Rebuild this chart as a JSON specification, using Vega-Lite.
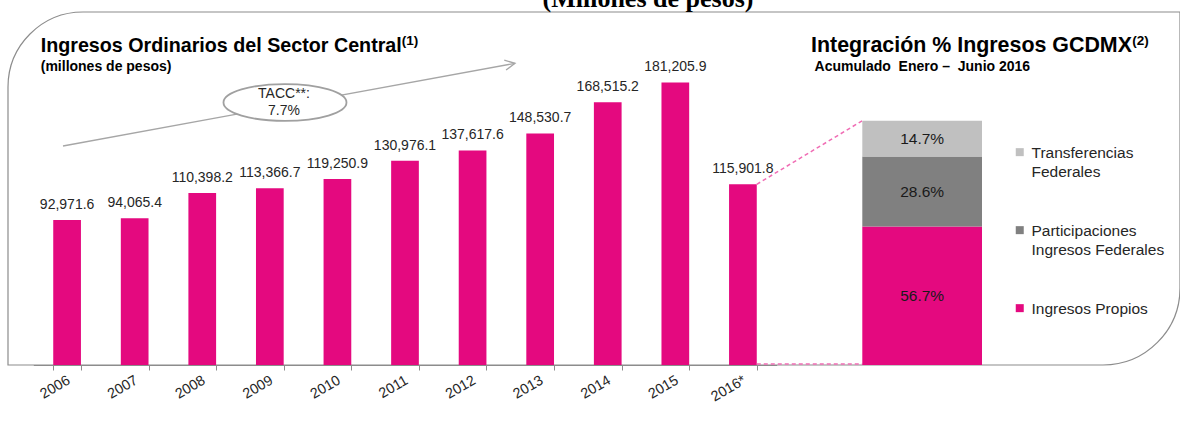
{
  "$schema": "https://vega.github.io/schema/vega-lite/v6.json",
  "width": 1172,
  "height": 353,
  "autosize": {"type": "none"},
  "padding": {"left": 8, "top": 12, "right": 0, "bottom": 59},
  "background": "white",
  "config": {"view": {"stroke": null}, "font": "Liberation Sans", "style": {"guide-label": {"lineHeight": 19}}},
  "layer": [
    {
      "data": {"values": [{}]},
      "mark": {"type": "rect", "fill": "white", "fillOpacity": 0, "stroke": "#8c8c8c", "strokeWidth": 1.2, "cornerRadiusTopLeft": 75, "cornerRadiusBottomRight": 77, "x2Offset": 16, "y2Offset": 62},
      "encoding": {}
    },
    {
      "data": {"values": [
        {"anio": "2006", "monto": 92971.6},
        {"anio": "2007", "monto": 94065.4},
        {"anio": "2008", "monto": 110398.2},
        {"anio": "2009", "monto": 113366.7},
        {"anio": "2010", "monto": 119250.9},
        {"anio": "2011", "monto": 130976.1},
        {"anio": "2012", "monto": 137617.6},
        {"anio": "2013", "monto": 148530.7},
        {"anio": "2014", "monto": 168515.2},
        {"anio": "2015", "monto": 181205.9},
        {"anio": "2016*", "monto": 115901.8}
      ]},
      "layer": [
        {
          "mark": {"type": "bar", "color": "#E4097F"},
          "encoding": {
            "x": {"field": "anio", "type": "nominal", "scale": {"range": [25.3, 768.7], "paddingInner": 0.59, "paddingOuter": 0.295},
              "axis": {"title": null, "labelAngle": -30, "labelFontSize": 14.3, "labelColor": "#262626", "labelAlign": "right", "labelBaseline": "top", "labelPadding": 3, "labelOffset": -2, "tickBand": "extent", "tickSize": 5, "tickColor": "#8c8c8c", "domainColor": "#8c8c8c", "labelFlush": false, "labelOverlap": false, "grid": false}},
            "y": {"field": "monto", "type": "quantitative", "scale": {"domain": [0, 226414], "nice": false}, "axis": null}
          }
        },
        {
          "mark": {"type": "text", "fontSize": 14, "color": "#262626", "baseline": "alphabetic", "dy": -11},
          "encoding": {
            "x": {"field": "anio", "type": "nominal"},
            "y": {"field": "monto", "type": "quantitative"},
            "text": {"field": "monto", "type": "quantitative", "format": ",.1f"}
          }
        },
        {
          "data": {"values": [{}]},
          "mark": {"type": "text", "align": "center", "baseline": "alphabetic", "font": "Liberation Serif", "fontSize": 26, "fontWeight": "bold", "color": "#000000"},
          "encoding": {
            "x": {"datum": "2015", "bandPosition": -0.487},
            "y": {"datum": 229900},
            "text": {"value": "(Millones de pesos)"}
          }
        },
        {
          "data": {"values": [{}]},
          "mark": {"type": "rule", "color": "#a6a6a6", "strokeWidth": 1.3},
          "encoding": {
            "x": {"datum": "2006", "bandPosition": 0.352},
            "x2": {"datum": "2013", "bandPosition": -0.408},
            "y": {"datum": 140467},
            "y2": {"datum": 193510}
          }
        },
        {
          "data": {"values": [{}]},
          "mark": {"type": "point", "shape": "M-1,-0.5L0,0L-1,0.5", "size": 400, "angle": -10.4, "filled": false, "stroke": "#a6a6a6", "strokeWidth": 1.3, "opacity": 1},
          "encoding": {
            "x": {"datum": "2013", "bandPosition": -0.408},
            "y": {"datum": 193510}
          }
        },
        {
          "data": {"values": [{}]},
          "mark": {"type": "point", "shape": "M-1,0A1,0.3,0,1,1,1,0A1,0.3,0,1,1,-1,0Z", "size": 15129, "filled": true, "fill": "white", "stroke": "#a0a0a0", "strokeWidth": 1.8, "opacity": 1, "fillOpacity": 1, "strokeOpacity": 1},
          "encoding": {
            "x": {"datum": "2009", "bandPosition": 1.047},
            "y": {"datum": 168368}
          }
        },
        {
          "data": {"values": [{}]},
          "mark": {"type": "text", "fontSize": 14, "color": "#262626", "baseline": "middle", "align": "center", "lineHeight": 17, "dx": -1, "dy": -8},
          "encoding": {
            "x": {"datum": "2009", "bandPosition": 1.047},
            "y": {"datum": 168368},
            "text": {"value": ["TACC**:", "7.7%"]}
          }
        },
        {
          "data": {"values": [{}]},
          "mark": {"type": "rule", "color": "#F06CB4", "strokeWidth": 1.5, "strokeDash": [4, 3], "x2Offset": 105.6},
          "encoding": {
            "x": {"datum": "2016*", "bandPosition": 1},
            "x2": {"datum": "2016*", "bandPosition": 1},
            "y": {"datum": 115901.8},
            "y2": {"datum": 156694}
          }
        },
        {
          "data": {"values": [{}]},
          "mark": {"type": "rule", "color": "#F06CB4", "strokeWidth": 1.5, "strokeDash": [4, 3], "x2Offset": 105.6},
          "encoding": {
            "x": {"datum": "2016*", "bandPosition": 1},
            "x2": {"datum": "2016*", "bandPosition": 1},
            "y": {"datum": 600},
            "y2": {"datum": 600}
          }
        },
        {
          "data": {"values": [{}]},
          "mark": {"type": "text", "align": "left", "baseline": "alphabetic", "fontSize": 19.7, "fontWeight": "bold", "color": "#000000", "dx": -12.5},
          "encoding": {
            "x": {"datum": "2006", "bandPosition": 0},
            "y": {"datum": 200600},
            "text": {"value": "Ingresos Ordinarios del Sector Central"}
          }
        },
        {
          "data": {"values": [{}]},
          "mark": {"type": "text", "align": "left", "baseline": "alphabetic", "fontSize": 13.5, "fontWeight": "bold", "color": "#000000", "dx": 348.5, "dy": -7},
          "encoding": {
            "x": {"datum": "2006", "bandPosition": 0},
            "y": {"datum": 200600},
            "text": {"value": "(1)"}
          }
        },
        {
          "data": {"values": [{}]},
          "mark": {"type": "text", "align": "left", "baseline": "alphabetic", "fontSize": 14, "fontWeight": "bold", "color": "#000000", "dx": -12.5},
          "encoding": {
            "x": {"datum": "2006", "bandPosition": 0},
            "y": {"datum": 188600},
            "text": {"value": "(millones de pesos)"}
          }
        }
      ]
    },
    {
      "data": {"values": [
        {"periodo": "Ene-Jun 2016", "cat": "Ingresos Propios", "v": 0.567},
        {"periodo": "Ene-Jun 2016", "cat": "Participaciones Ingresos Federales", "v": 0.286},
        {"periodo": "Ene-Jun 2016", "cat": "Transferencias Federales", "v": 0.147}
      ]},
      "layer": [
        {
          "mark": {"type": "bar"},
          "encoding": {
            "x": {"field": "periodo", "type": "nominal", "scale": {"range": [854.3, 974], "paddingInner": 0, "paddingOuter": 0}, "axis": null},
            "y": {"field": "v", "type": "quantitative", "stack": "zero", "scale": {"domain": [0, 1.4449], "nice": false}, "axis": null},
            "color": {"field": "cat", "type": "nominal",
              "scale": {"domain": ["Transferencias Federales", "Participaciones Ingresos Federales", "Ingresos Propios"], "range": ["#C0C0C0", "#808080", "#E4097F"]},
              "legend": {"title": null, "orient": "none", "legendX": 1004, "legendY": 126, "padding": 0, "labelFontSize": 15.5, "labelColor": "#262626", "labelBaseline": "top", "symbolType": "M-1,0.6H1V2.6H-1Z", "symbolSize": 64, "symbolStrokeWidth": 0, "rowPadding": 35, "labelLimit": 200,
                "labelExpr": "datum.label == 'Transferencias Federales' ? ['Transferencias', 'Federales'] : datum.label == 'Participaciones Ingresos Federales' ? ['Participaciones', 'Ingresos Federales'] : datum.label"}},
            "order": {"field": "v", "type": "quantitative", "sort": "descending"}
          }
        },
        {
          "mark": {"type": "text", "fontSize": 15.5, "color": "#1a1a1a", "baseline": "middle", "align": "center"},
          "encoding": {
            "x": {"field": "periodo", "type": "nominal"},
            "y": {"field": "v", "type": "quantitative", "stack": "zero", "bandPosition": 0.5},
            "detail": {"field": "cat"},
            "order": {"field": "v", "type": "quantitative", "sort": "descending"},
            "text": {"field": "v", "type": "quantitative", "format": ".1%"}
          }
        },
        {
          "data": {"values": [{}]},
          "mark": {"type": "text", "align": "left", "baseline": "alphabetic", "fontSize": 21.4, "fontWeight": "bold", "color": "#000000", "dx": -51.3},
          "encoding": {
            "x": {"datum": "Ene-Jun 2016", "bandPosition": 0},
            "y": {"datum": 1.28},
            "text": {"value": "Integración % Ingresos GCDMX"}
          }
        },
        {
          "data": {"values": [{}]},
          "mark": {"type": "text", "align": "left", "baseline": "alphabetic", "fontSize": 13.5, "fontWeight": "bold", "color": "#000000", "dx": 270, "dy": -7},
          "encoding": {
            "x": {"datum": "Ene-Jun 2016", "bandPosition": 0},
            "y": {"datum": 1.28},
            "text": {"value": "(2)"}
          }
        },
        {
          "data": {"values": [{}]},
          "mark": {"type": "text", "align": "left", "baseline": "alphabetic", "fontSize": 14, "fontWeight": "bold", "color": "#000000", "dx": -47.7},
          "encoding": {
            "x": {"datum": "Ene-Jun 2016", "bandPosition": 0},
            "y": {"datum": 1.2034},
            "text": {"value": "Acumulado\u00a0 Enero –\u00a0 Junio 2016"}
          }
        }
      ]
    }
  ],
  "resolve": {"scale": {"x": "independent", "y": "independent", "color": "independent"}}
}
